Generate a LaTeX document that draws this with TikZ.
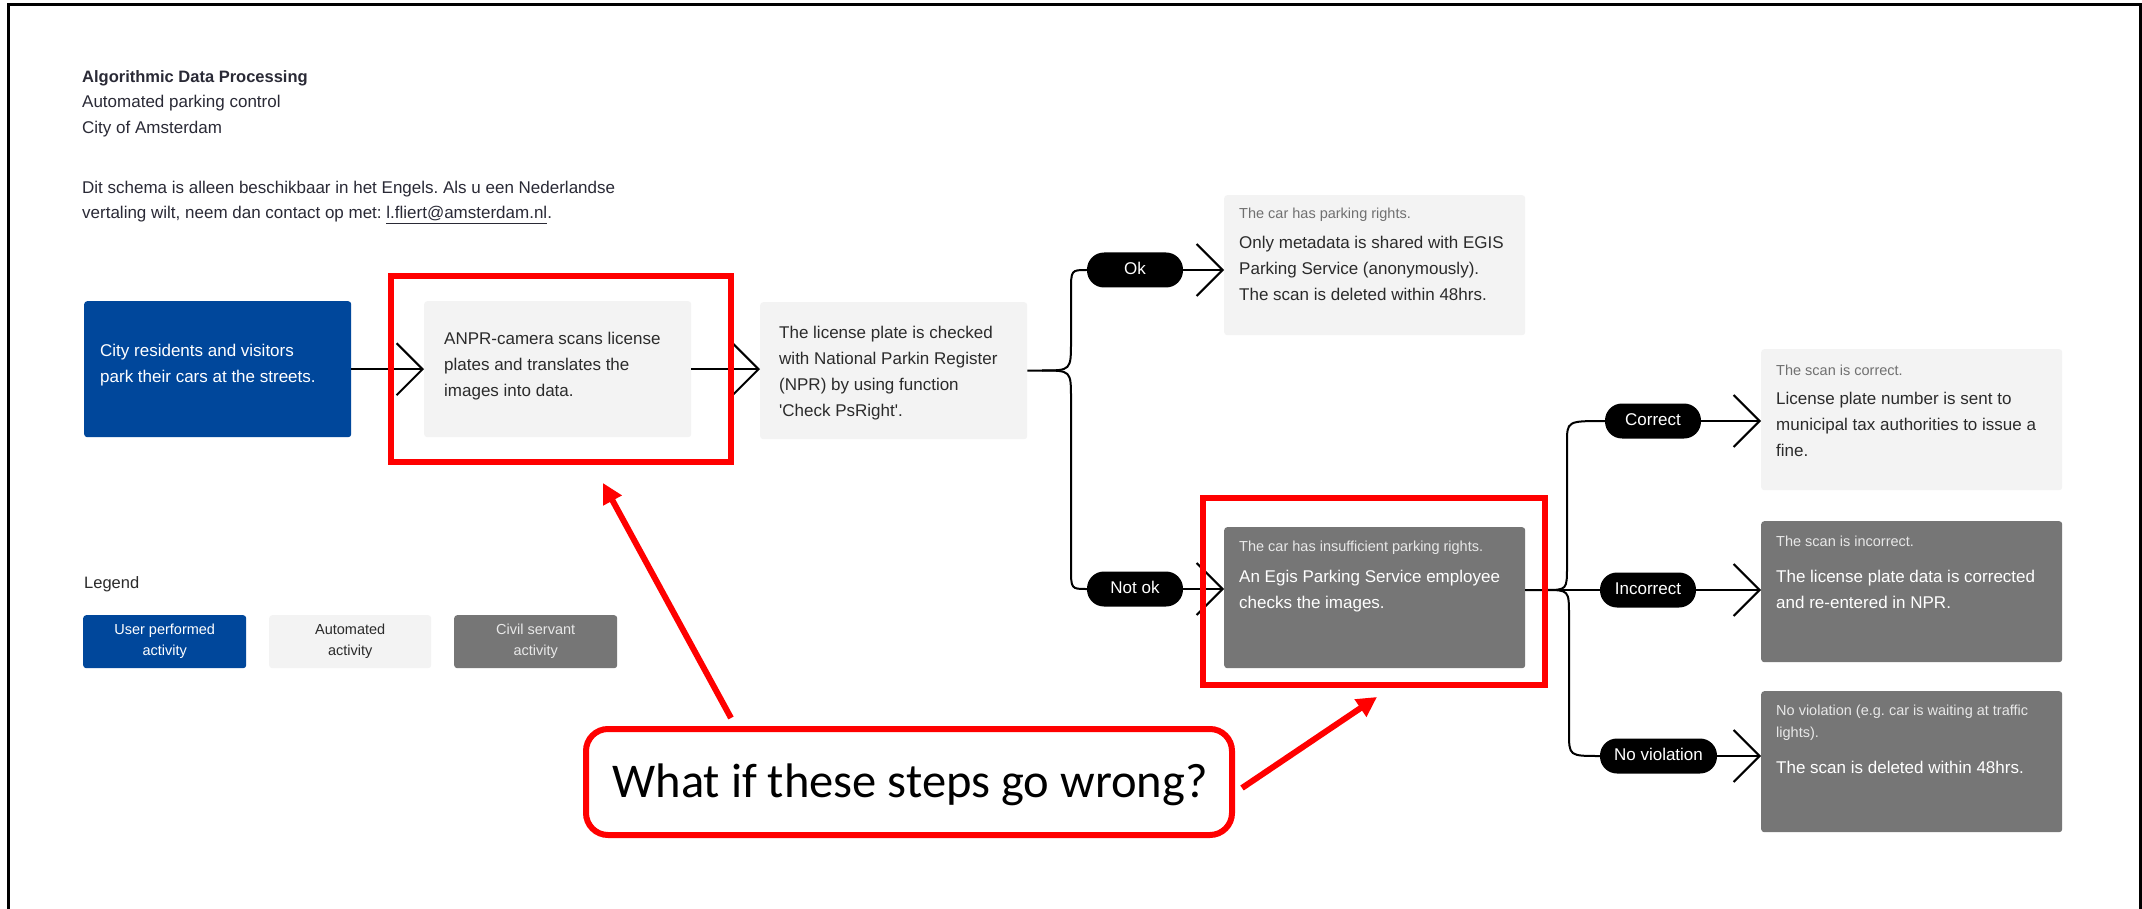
\documentclass[tikz,border=0pt]{standalone}
\usepackage{fontspec}
\setmainfont{Liberation Sans}
\newfontfamily\calfont{Carlito}
\usetikzlibrary{arrows.meta}
\definecolor{amsblue}{HTML}{00479B}
\definecolor{lightbox}{HTML}{F3F3F3}
\definecolor{darkbox}{HTML}{767676}
\definecolor{txtdark}{HTML}{2B2B2B}
\definecolor{titlecol}{HTML}{2A2A36}
\definecolor{txtgray}{HTML}{707070}
\definecolor{txtlight}{HTML}{E8E8E8}
\definecolor{hired}{HTML}{FF0000}
\frenchspacing
\begin{document}
\begin{tikzpicture}[x=1pt,y=-1pt,
  ubox/.style={rectangle, rounded corners=3pt, fill=amsblue, inner sep=0, anchor=north west},
  abox/.style={rectangle, rounded corners=3pt, fill=lightbox, inner sep=0, anchor=north west},
  cbox/.style={rectangle, rounded corners=3pt, fill=darkbox, inner sep=0, anchor=north west},
  pill/.style={rectangle, rounded corners=17pt, fill=black, text=white, minimum height=35, inner sep=0,
    font=\fontsize{17}{20}\selectfont, text height=12.5, text depth=3.5},
  maintxt/.style={anchor=base west, align=left, inner sep=0, font=\fontsize{17}{26}\selectfont},
  smalltxt/.style={anchor=base west, align=left, inner sep=0, font=\fontsize{14.5}{22}\selectfont},
  legtxt/.style={align=center, font=\fontsize{14.5}{21}\selectfont},
  flow/.style={line width=2pt, -{Straight Barb[length=26pt,width=52pt]}},
  branch/.style={line width=2pt},
  hilite/.style={draw=hired, line width=6pt, rectangle, inner sep=0},
  redarrow/.style={draw=hired, line width=6pt, -{Triangle[length=20pt,width=20pt]}}
]
\useasboundingbox (0,0) rectangle (2142,909);
\fill[white] (0,0) rectangle (2142,909);
\draw[line width=3pt] (8,909) -- (8,5) -- (2140,5) -- (2140,909);

% header texts (anchor = baseline of the last line)
\node[maintxt, font=\fontsize{17}{25.5}\selectfont, text=titlecol] (title) at (82,133.5)
  {{\fontsize{16.5}{25.5}\selectfont\bfseries Algorithmic Data Processing}\\Automated parking control\\City of Amsterdam};
\node[maintxt, font=\fontsize{17}{25.5}\selectfont, text=titlecol] (dutch) at (82,219)
  {Dit schema is alleen beschikbaar in het Engels. Als u een Nederlandse\\vertaling wilt, neem dan contact op met: \underline{l.fliert@amsterdam.nl}.};

% main boxes
\node[ubox, minimum width=267, minimum height=136] (user) at (84,301) {};
\node[abox, minimum width=267, minimum height=136] (anpr) at (424,301) {};
\node[abox, minimum width=267, minimum height=137] (npr) at (760,302) {};
\node[abox, minimum width=301, minimum height=140] (tr) at (1224,195) {};
\node[cbox, minimum width=301, minimum height=141] (dark) at (1224,527) {};
\node[abox, minimum width=301, minimum height=141] (cb) at (1761,349) {};
\node[cbox, minimum width=301, minimum height=141] (ib) at (1761,521) {};
\node[cbox, minimum width=301, minimum height=141] (nb) at (1761,691) {};

% box texts (anchor = baseline of the last line)
\node[maintxt, text=white] (usert) at (100,382.5) {City residents and visitors\\park their cars at the streets.};
\node[maintxt, text=txtdark] (anprt) at (444,396.5) {ANPR-camera scans license\\plates and translates the\\images into data.};
\node[maintxt, text=txtdark] (nprt) at (779,416.5) {The license plate is checked\\with National Parkin Register\\(NPR) by using function\\\textquotesingle Check PsRight\textquotesingle.};
\node[smalltxt, text=txtgray] (trs) at (1239,218.5) {The car has parking rights.};
\node[maintxt, text=txtdark] (trt) at (1239,300.5) {Only metadata is shared with EGIS\\Parking Service (anonymously).\\The scan is deleted within 48hrs.};
\node[smalltxt, text=txtlight] (darks) at (1239,551.5) {The car has insufficient parking rights.};
\node[maintxt, text=white] (darkt) at (1239,608.5) {An Egis Parking Service employee\\checks the images.};
\node[smalltxt, text=txtgray] (cbs) at (1776,375.5) {The scan is correct.};
\node[maintxt, text=txtdark] (cbt) at (1776,456.5) {License plate number is sent to\\municipal tax authorities to issue a\\fine.};
\node[smalltxt, text=txtlight] (ibs) at (1776,546.5) {The scan is incorrect.};
\node[maintxt, text=white] (ibt) at (1776,608.5) {The license plate data is corrected\\and re-entered in NPR.};
\node[smalltxt, text=txtlight] (nbs) at (1776,737.5) {No violation (e.g. car is waiting at traffic\\lights).};
\node[maintxt, text=white] (nbt) at (1776,773.5) {The scan is deleted within 48hrs.};

% legend
\node[maintxt, font=\fontsize{16.5}{20}\selectfont, text=txtdark] (legend) at (84,588.5) {Legend};
\node[ubox, legtxt, minimum width=163, minimum height=53, text=white] (lb1) at (83,615) {User performed\\activity};
\node[abox, legtxt, minimum width=162, minimum height=53, text=txtdark] (lb2) at (269,615) {Automated\\activity};
\node[cbox, legtxt, minimum width=163, minimum height=53, text=txtlight] (lb3) at (454,615) {Civil servant\\activity};

% pills
\node[pill, minimum width=96] (ok) at (1135,270) {Ok};
\node[pill, minimum width=96] (notok) at (1135,589) {Not ok};
\node[pill, minimum width=96] (correct) at (1653,421) {Correct};
\node[pill, minimum width=96] (incorrect) at (1648,590) {Incorrect};
\node[pill, minimum width=117] (noviol) at (1658.5,756) {No violation};

% flow connectors
\draw[flow] (user.east) -- (anpr.west);
\draw[flow] (anpr.east) -- (anpr.east -| npr.west);
\draw[branch] (npr.east) -- (1042,370.5) .. controls (1071,370.5) .. (1071,341) -- (1071,292) .. controls (1071,270) .. (ok.west);
\draw[branch] (1042,370.5) .. controls (1071,370.5) .. (1071,399) -- (1071,567) .. controls (1071,589) .. (notok.west);
\draw[flow] (ok.east) -- (ok.east -| tr.west);
\draw[flow] (notok.east) -- (notok.east -| dark.west);
\draw[branch] (dark.east |- incorrect.west) -- (incorrect.west);
\draw[branch] (dark.east |- incorrect.west) -- (1545,590) .. controls (1567,590) .. (1567,566) -- (1567,443) .. controls (1567,421) .. (correct.west);
\draw[branch] (1545,590) .. controls (1569,590) .. (1569,616) -- (1569,732) .. controls (1569,756) .. (noviol.west);
\draw[flow] (correct.east) -- (correct.east -| cb.west);
\draw[flow] (incorrect.east) -- (incorrect.east -| ib.west);
\draw[flow] (noviol.east) -- (noviol.east -| nb.west);

% red annotations
\node[hilite, minimum width=340, minimum height=186] (hl1) at (561,369) {};
\node[hilite, minimum width=342, minimum height=187] (hl2) at (1374,591.5) {};
\node[hilite, rounded corners=22pt, fill=white, minimum width=646, minimum height=106] (callout) at (909,782) {};
\node[font=\calfont\fontsize{48.5}{58}\selectfont, anchor=base, inner sep=0] (calltxt) at (910,797.5) {What if these steps go wrong?};
\coordinate (r1s) at (731,718);
\coordinate (r1e) at (603,483);
\coordinate (r2s) at (1242,788);
\coordinate (r2e) at (1377,697);
\draw[redarrow] (r1s) -- (r1e);
\draw[redarrow] (r2s) -- (r2e);
\end{tikzpicture}
\end{document}
